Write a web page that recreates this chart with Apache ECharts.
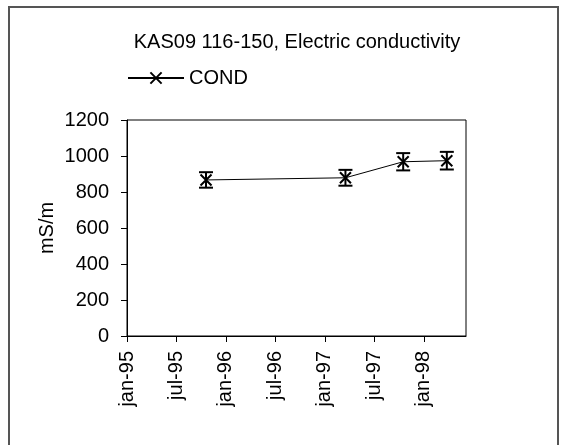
<!DOCTYPE html>
<html>
<head>
<meta charset="utf-8">
<script src="https://cdn.jsdelivr.net/npm/echarts@6/dist/echarts.min.js"></script>
<style>
  html, body { margin: 0; padding: 0; background: #fff; }
  #chart { width: 562px; height: 445px; }
</style>
</head>
<body>
<div id="chart"></div>
<script>
// Sampling dates, conductivity (mS/m) and the error-bar half widths
const sampleDates = ['1995-10-19', '1997-03-16', '1997-10-16', '1998-03-25'];
const condValues = [867, 879, 968, 974];
const condErrors = [43, 44, 48, 49];
const yTicks = [0, 200, 400, 600, 800, 1000, 1200];
const monthNames = ['jan', 'feb', 'mar', 'apr', 'maj', 'jun', 'jul', 'aug', 'sep', 'okt', 'nov', 'dec'];

// x is measured in months since jan-95
const baseYear = 1995;
function toMonths(s) {
  const [y, m, d] = s.split('-').map(Number);
  const dim = new Date(y, m, 0).getDate();
  return (y - baseYear) * 12 + (m - 1) + (d - 1) / dim;
}
function monthLabel(v) {
  const idx = Math.round(v);
  const y = baseYear + Math.floor(idx / 12);
  const m = idx % 12;
  return monthNames[m] + '-' + String(y).slice(2);
}
const xMax = toMonths('1998-06-04');

const lineData = sampleDates.map((d, i) => [toMonths(d), condValues[i]]);
const errData = sampleDates.map((d, i) => [toMonths(d), condValues[i] - condErrors[i], condValues[i] + condErrors[i]]);

const font = 'Liberation Sans, Arial, sans-serif';
const fs = 20;
const chart = echarts.init(document.getElementById('chart'), null, { renderer: 'canvas' });

chart.setOption({
  animation: false,
  backgroundColor: '#fff',
  textStyle: { fontFamily: font },
  graphic: [{
    type: 'rect',
    shape: { x: 9, y: 7, width: 549, height: 450 },
    style: { fill: 'none', stroke: '#555', lineWidth: 2 },
    silent: true
  }],
  title: {
    text: 'KAS09 116-150, Electric conductivity',
    left: 292, top: 27, textAlign: 'center',
    textStyle: { fontFamily: font, fontSize: fs, fontWeight: 'normal', color: '#000' }
  },
  legend: {
    data: ['COND'],
    left: 122, top: 63,
    itemWidth: 56, itemHeight: 14, itemGap: 6,
    textStyle: { fontFamily: font, fontSize: fs, color: '#000' }
  },
  grid: {
    left: 127, right: 96, top: 120, bottom: 109,
    show: true, borderColor: '#000', borderWidth: 1, backgroundColor: 'transparent'
  },
  xAxis: {
    type: 'value',
    min: 0, max: xMax, interval: 6,
    axisLine: { lineStyle: { color: '#000', width: 1 } },
    axisTick: { inside: false, length: 6, lineStyle: { color: '#000' } },
    splitLine: { show: false },
    axisLabel: {
      rotate: 90, margin: 15, color: '#000', fontFamily: font, fontSize: fs,
      showMaxLabel: false,
      formatter: monthLabel
    }
  },
  yAxis: {
    type: 'value',
    min: yTicks[0], max: yTicks[yTicks.length - 1], interval: 200,
    name: 'mS/m', nameLocation: 'middle', nameGap: 70, nameRotate: 90,
    nameMoveOverlap: false,
    nameTextStyle: { fontFamily: font, fontSize: fs, color: '#000' },
    axisLine: { show: true, lineStyle: { color: '#000', width: 1 } },
    axisTick: { show: true, inside: false, length: 6, lineStyle: { color: '#000' } },
    splitLine: { show: false },
    axisLabel: { color: '#000', fontFamily: font, fontSize: fs, margin: 18, formatter: v => String(v) }
  },
  series: [
    {
      name: 'COND',
      type: 'line',
      data: lineData,
      symbol: 'path://M0,0L10,10M10,0L0,10',
      symbolSize: 11,
      lineStyle: { color: '#000', width: 1 },
      itemStyle: { color: 'transparent', borderColor: '#000', borderWidth: 2 },
      z: 3
    },
    {
      name: 'err',
      type: 'custom',
      data: errData,
      renderItem: function (params, api) {
        const x = api.value(0);
        const lo = api.coord([x, api.value(1)]);
        const hi = api.coord([x, api.value(2)]);
        const cw = 7;
        const st = { stroke: '#000', lineWidth: 2 };
        return {
          type: 'group',
          children: [
            { type: 'line', shape: { x1: lo[0], y1: lo[1], x2: hi[0], y2: hi[1] }, style: st },
            { type: 'line', shape: { x1: lo[0] - cw, y1: lo[1], x2: lo[0] + cw, y2: lo[1] }, style: st },
            { type: 'line', shape: { x1: hi[0] - cw, y1: hi[1], x2: hi[0] + cw, y2: hi[1] }, style: st }
          ]
        };
      },
      z: 4
    }
  ]
});
</script>
</body>
</html>
